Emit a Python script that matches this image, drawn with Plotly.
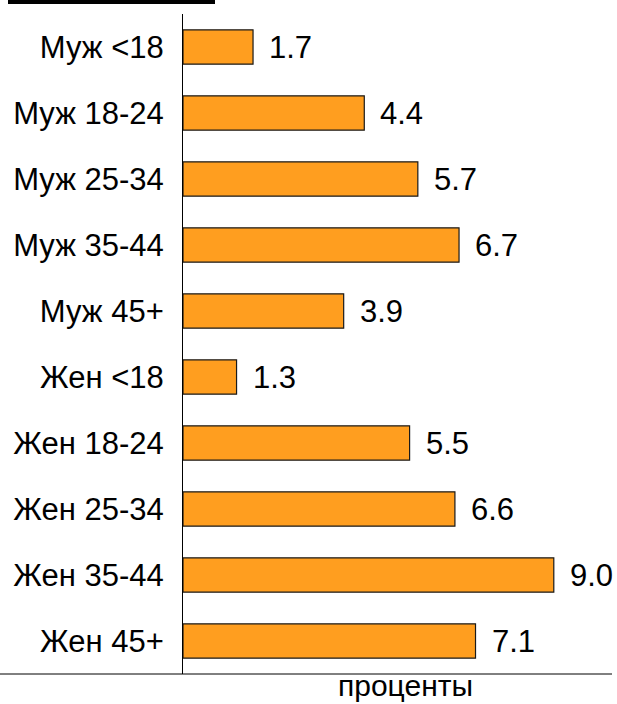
import plotly.graph_objects as go

categories = ["Муж <18", "Муж 18-24", "Муж 25-34", "Муж 35-44", "Муж 45+",
              "Жен <18", "Жен 18-24", "Жен 25-34", "Жен 35-44", "Жен 45+"]
values = [1.7, 4.4, 5.7, 6.7, 3.9, 1.3, 5.5, 6.6, 9.0, 7.1]
value_labels = ["1.7", "4.4", "5.7", "6.7", "3.9", "1.3", "5.5", "6.6", "9.0", "7.1"]
axis_title = "проценты"

FONT = "Liberation Sans, Arial, sans-serif"
FS = 31
W, H = 617, 704
ml, mr, mt, mb = 183, 5, 14, 30
pw = W - ml - mr
ph = H - mt - mb

fig = go.Figure(go.Bar(
    x=values, y=categories, orientation="h",
    marker=dict(color="#FF9E1F", line=dict(color="#1a1a1a", width=1.2)),
    width=0.52, hoverinfo="skip",
))

for v, c, t in zip(values, categories, value_labels):
    fig.add_annotation(x=v, y=c, text=t, showarrow=False, xanchor="left",
                       xshift=14, font=dict(family=FONT, size=FS, color="black"))

fig.add_annotation(xref="paper", yref="paper", x=(405 - ml) / pw, y=0, yshift=-11,
                   text=axis_title, showarrow=False, yanchor="middle",
                   font=dict(family=FONT, size=30, color="black"))

# baseline spanning full width
fig.add_shape(type="line", xref="paper", yref="paper",
              x0=-ml / pw, x1=1, y0=0, y1=0, line=dict(color="black", width=1))
# cropped underline of title at top-left
fig.add_shape(type="line", xref="paper", yref="paper",
              x0=(8 - ml) / pw, x1=(215 - ml) / pw,
              y0=(H - mb - 2) / ph, y1=(H - mb - 2) / ph,
              line=dict(color="black", width=4))

fig.update_layout(
    width=W, height=H,
    margin=dict(l=ml, r=mr, t=mt, b=mb),
    paper_bgcolor="white", plot_bgcolor="white",
    showlegend=False,
    font=dict(family=FONT, size=FS, color="black"),
    xaxis=dict(range=[0, pw / 41.2], showticklabels=False, showgrid=False,
               zeroline=False, showline=False, ticks="", automargin=False),
    yaxis=dict(autorange="reversed", showgrid=False, zeroline=False,
               showline=True, linecolor="black", linewidth=1, ticks="",
               automargin=False,
               ticklabelstandoff=12, tickfont=dict(family=FONT, size=FS)),
)

fig.write_html("out.html", config={"displayModeBar": False},
               post_script="document.body.style.margin='0';document.body.style.overflow='hidden';")
